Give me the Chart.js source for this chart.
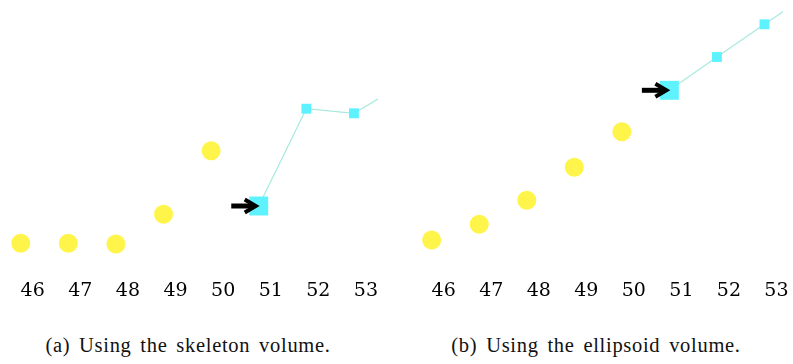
<!DOCTYPE html>
<html>
<head>
<meta charset="utf-8">
<script src="https://cdn.jsdelivr.net/npm/chart.js@4"></script>
<style>
  body { margin: 0; background: #fff; }
  #wrap { position: relative; width: 793px; height: 364px; background: #fff; overflow: hidden; }
  .panel { position: absolute; top: 0; height: 300px; }
  .caption {
    position: absolute; top: 334px; width: 380px; text-align: center;
    font-family: "Liberation Serif", serif; font-size: 20.5px; color: #111;
    letter-spacing: 0.7px; word-spacing: 3px; white-space: nowrap;
  }
</style>
</head>
<body>
<div id="wrap">
  <div class="panel" style="left:0; width:378px;"><canvas id="graficaEsqueleto"></canvas></div>
  <div class="panel" style="left:411px; width:382px;"><canvas id="graficaElipsoide"></canvas></div>
  <div class="caption" style="left:-2px;">(a) Using the skeleton volume.</div>
  <div class="caption" style="left:406px;">(b) Using the ellipsoid volume.</div>
</div>
<script>
// Frames on the x axis
const frames = [46, 47, 48, 49, 50, 51, 52, 53];
const pastFrames = [46, 47, 48, 49, 50];
const nextFrames = [51, 52, 53, 54];

// Volume values (arbitrary units)
const skeletonPast = [16.7, 16.7, 16, 45.7, 109.3];
const skeletonNext = [54, 151.3, 146.7, 175];
const ellipsoidPast = [20, 35.7, 59.7, 92.7, 128.3];
const ellipsoidNext = [169.7, 203, 235.7, 268];

const amarillo = '#fff54a';
const cian = '#5ef2ff';

// Arrow pointing at the current frame
const flecha = {
  id: 'flecha',
  afterDatasetsDraw(chart) {
    const pt = chart.getDatasetMeta(1).data[0];
    const ctx = chart.ctx;
    ctx.save();
    ctx.strokeStyle = '#000';
    ctx.lineWidth = 5;
    ctx.beginPath();
    ctx.moveTo(pt.x - 27.5, pt.y);
    ctx.lineTo(pt.x - 6, pt.y);
    ctx.stroke();
    ctx.lineWidth = 4;
    ctx.lineJoin = 'miter';
    ctx.beginPath();
    ctx.moveTo(pt.x - 14, pt.y - 6.5);
    ctx.lineTo(pt.x - 3, pt.y);
    ctx.lineTo(pt.x - 14, pt.y + 6.5);
    ctx.stroke();
    ctx.restore();
  }
};

function crearGrafica(id, past, next, xMax, padRight) {
  const ctx = document.getElementById(id).getContext('2d');
  return new Chart(ctx, {
    type: 'scatter',
    data: {
      datasets: [{
        data: pastFrames.map((f, i) => ({ x: f, y: past[i] })),
        backgroundColor: amarillo,
        pointRadius: 9.5,
        pointBorderWidth: 0,
        showLine: false
      }, {
        data: nextFrames.map((f, i) => ({ x: f, y: next[i] })),
        showLine: true,
        borderColor: '#a9e9df',
        borderWidth: 1.2,
        pointStyle: 'rect',
        pointRadius: [13.4, 7, 7, 0],
        pointBackgroundColor: cian,
        pointBorderWidth: 0
      }]
    },
    options: {
      responsive: true,
      maintainAspectRatio: false,
      animation: false,
      events: [],
      layout: { padding: { left: 0, top: 0, bottom: 0, right: padRight }, autoPadding: false },
      plugins: { legend: { display: false }, tooltip: { enabled: false } },
      scales: {
        x: {
          type: 'linear',
          min: 45.565,
          max: xMax,
          grid: { display: false, drawTicks: false },
          border: { display: false },
          afterBuildTicks: axis => { axis.ticks = frames.map(v => ({ value: v })); },
          afterFit: axis => {
            axis.height = 40;
            axis.paddingLeft = 0;
            axis.paddingRight = 0;
          },
          ticks: {
            padding: 20,
            labelOffset: 12,
            maxRotation: 0,
            autoSkip: false,
            color: '#000',
            font: { family: 'DejaVu Serif', size: 19 }
          }
        },
        y: { display: false, min: 0, max: 260 }
      }
    },
    plugins: [flecha]
  });
}

crearGrafica('graficaEsqueleto', skeletonPast, skeletonNext, 53.505, 0);
crearGrafica('graficaElipsoide', ellipsoidPast, ellipsoidNext, 53.39, 10);
</script>
</body>
</html>
